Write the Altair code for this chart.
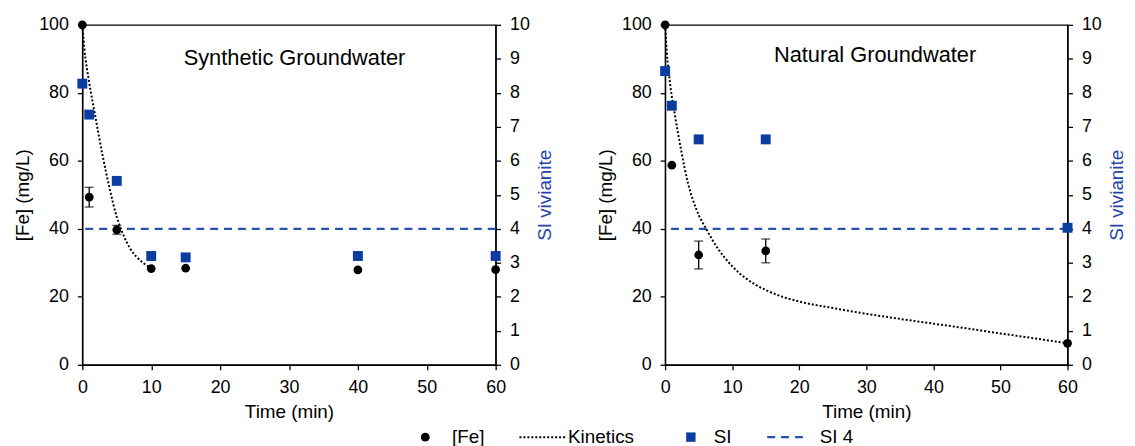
import altair as alt
import pandas as pd

# ---------------- data ----------------
x_ticks = [0, 10, 20, 30, 40, 50, 60]
fe_ticks = [0, 20, 40, 60, 80, 100]
si_ticks = [0, 1, 2, 3, 4, 5, 6, 7, 8, 9, 10]

syn_time = [0, 1, 5, 10, 15, 40, 60]
syn_fe = [100, 49.3, 39.7, 28.3, 28.4, 27.9, 28.0]
syn_fe_err = [0, 2.9, 1.3, 0, 0, 0, 0]
syn_si = [8.27, 7.36, 5.41, 3.20, 3.16, 3.20, 3.20]
syn_kin_time = [0, 0.3, 1, 1.8, 3, 4, 5, 6, 7, 8, 9, 10]
syn_kin_fe = [100, 93, 83, 74, 61, 51.5, 43.5, 38, 34, 31.5, 29.7, 28.5]

nat_time = [0, 1, 5, 15, 60]
nat_fe = [100, 58.7, 32.3, 33.5, 6.3]
nat_fe_err = [0, 0, 4.1, 3.5, 0]
nat_si = [8.64, 7.62, 6.63, 6.63, 4.03]
nat_kin_time = [0, 0.25, 0.75, 1.5, 2.4, 3.4, 4.7, 6.2, 8, 9, 10, 11, 12, 13.5, 15, 17.5,
                20, 25, 30, 35, 40, 45, 50, 55, 60]
nat_kin_fe = [100, 92, 82.5, 73, 63, 53.5, 45.5, 39.7, 33.8, 31.2, 29, 27.1, 25.5, 23.5, 22, 20,
              18.6, 16.7, 15.0, 13.5, 12.1, 10.7, 9.2, 7.8, 6.3]

si_threshold = [4]
panel_titles = ["Synthetic Groundwater", "Natural Groundwater"]
legend_labels = ["[Fe]", "Kinetics", "SI", "SI 4"]

# ---------------- style ----------------
FONT = "Liberation Sans"
SQ_BLUE = "#0b3c9f"
DASH_BLUE = "#2a50b2"
TITLE_BLUE = "#1f45a8"


def panel(time, fe, err, si, kin_t, kin_fe, title, title_t, title_fe, width):
    df = pd.DataFrame({"time": time, "fe": fe, "err": err, "si": si})
    df["lo"] = df["fe"] - df["err"]
    df["hi"] = df["fe"] + df["err"]
    err_df = df[df["err"] > 0]
    kin = pd.DataFrame({"time": kin_t, "fe": kin_fe})

    xs = alt.X("time:Q", scale=alt.Scale(domain=[0, 60], nice=False, zero=False),
               axis=alt.Axis(values=x_ticks, title="Time (min)", labelFlush=False))
    fe_scale = alt.Scale(domain=[0, 100], nice=False)
    si_scale = alt.Scale(domain=[0, 10], nice=False)
    fe_axis = alt.Axis(values=fe_ticks, title="[Fe] (mg/L)", orient="left")
    si_axis = alt.Axis(values=si_ticks, title="SI vivianite", orient="right",
                       titleColor=TITLE_BLUE, titleAngle=270, titleBaseline="top")

    si4 = alt.Chart(pd.DataFrame({"si": si_threshold})).mark_rule(
        color=DASH_BLUE, strokeDash=[8, 6], strokeWidth=2.2
    ).encode(y=alt.Y("si:Q", scale=si_scale, axis=None))

    kin_line = alt.Chart(kin).mark_line(
        color="black", strokeDash=[2, 2], strokeWidth=2, interpolate="monotone"
    ).encode(x=xs, y=alt.Y("fe:Q", scale=fe_scale, axis=None))

    err_rule = alt.Chart(err_df).mark_rule(color="black", strokeWidth=1.3).encode(
        x=xs, y=alt.Y("lo:Q", scale=fe_scale, axis=None), y2="hi:Q")
    err_lo = alt.Chart(err_df).mark_tick(orient="horizontal", size=9, thickness=1.3, color="black").encode(
        x=xs, y=alt.Y("lo:Q", scale=fe_scale, axis=None))
    err_hi = alt.Chart(err_df).mark_tick(orient="horizontal", size=9, thickness=1.3, color="black").encode(
        x=xs, y=alt.Y("hi:Q", scale=fe_scale, axis=None))

    fe_pts = alt.Chart(df).mark_point(
        shape="circle", filled=True, size=78, color="black", opacity=1
    ).encode(x=xs, y=alt.Y("fe:Q", scale=fe_scale, axis=fe_axis))

    title_txt = alt.Chart(pd.DataFrame({"title": [title]})).mark_text(
        font=FONT, fontSize=22, align="center", baseline="alphabetic", color="black"
    ).encode(x=alt.datum(title_t), y=alt.Y(datum=title_fe, scale=fe_scale, axis=None), text="title:N")

    si_pts = alt.Chart(df).mark_point(
        shape="square", filled=True, size=100, color=SQ_BLUE, opacity=1
    ).encode(x=xs, y=alt.Y("si:Q", scale=si_scale, axis=si_axis))

    return alt.layer(
        si4, kin_line, err_rule, err_lo, err_hi, fe_pts, title_txt, si_pts
    ).resolve_scale(y="independent").properties(width=width, height=343)


left = panel(syn_time, syn_fe, syn_fe_err, syn_si, syn_kin_time, syn_kin_fe,
             panel_titles[0], 30.8, 88.3, 417)
right = panel(nat_time, nat_fe, nat_fe_err, nat_si, nat_kin_time, nat_kin_fe,
              panel_titles[1], 31.3, 89.2, 406)

# ---------------- legend ----------------
leg_df = pd.DataFrame({"label": legend_labels})
leg_x = alt.X("label:N", sort=legend_labels, axis=None,
              scale=alt.Scale(type="point", domain=legend_labels, range=[346, 711.5], padding=0))
LY = 9.5


def lb(lbl):
    return alt.Chart(leg_df).transform_filter(alt.datum.label == lbl)


l_fe = lb(legend_labels[0]).mark_point(shape="circle", filled=True, size=80, color="black", opacity=1).encode(
    x=leg_x, y=alt.value(LY))
l_kin = lb(legend_labels[1]).mark_rule(color="black", strokeDash=[2, 2], strokeWidth=2,
                                       xOffset=-26.8, x2Offset=19.2).encode(
    x=leg_x, x2=alt.X2(field="label"), y=alt.value(LY))
l_si = lb(legend_labels[2]).mark_point(shape="square", filled=True, size=90, color=SQ_BLUE, opacity=1,
                                       xOffset=24.3).encode(x=leg_x, y=alt.value(LY))
l_si4 = lb(legend_labels[3]).mark_rule(color=DASH_BLUE, strokeDash=[8, 6], strokeWidth=2.2,
                                       xOffset=-20.5, x2Offset=20.5).encode(
    x=leg_x, x2=alt.X2(field="label"), y=alt.value(LY))

texts = []
for lbl, dx in zip(legend_labels, [27, 22.2, 47.3, 32.5]):
    texts.append(lb(lbl).mark_text(font=FONT, fontSize=19, align="left", baseline="middle",
                                   color="black", dx=dx).encode(x=leg_x, y=alt.value(LY), text="label:N"))

legend = alt.layer(l_fe, l_kin, l_si, l_si4, *texts).properties(
    width=800, height=19, view=alt.ViewBackground(stroke="transparent"))

chart = alt.vconcat(
    alt.hconcat(left, right, spacing=41),
    legend,
    spacing=4.5,
).properties(
    padding={"left": 5, "top": 5, "right": 0, "bottom": 0}
).configure_axis(
    labelFont=FONT, titleFont=FONT, labelFontSize=18, titleFontSize=19,
    titleFontWeight="normal", labelColor="black", titleColor="black",
    domainColor="black", tickColor="black", grid=False, tickSize=5,
    labelPadding=9, titlePadding=6, domainWidth=1.3, tickWidth=1.3
).configure_view(stroke="black", strokeWidth=1.3)

chart.save("out.html", embed_options={"renderer": "svg", "actions": False})
